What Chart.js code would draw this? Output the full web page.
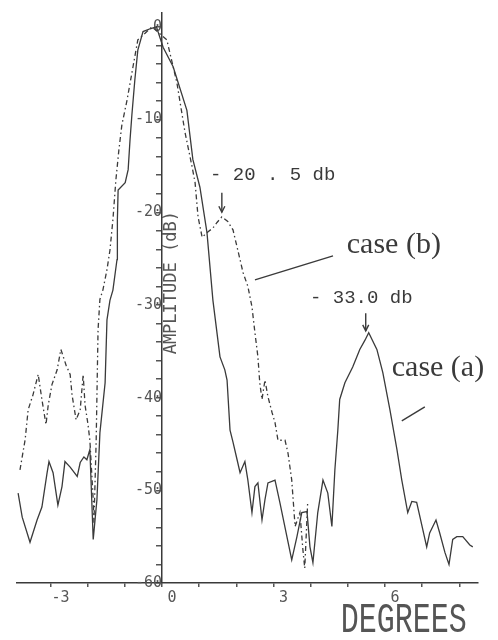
<!DOCTYPE html>
<html>
<head>
<meta charset="utf-8">
<script src="https://cdn.jsdelivr.net/npm/chart.js@4.4.0/dist/chart.umd.min.js"></script>
<style>
  html, body { margin: 0; padding: 0; background: #fff; }
  #wrap { width: 498px; height: 640px; position: relative; }
</style>
</head>
<body>
<div id="wrap"><canvas id="Chart"></canvas></div>
<script>
// case (a) : solid trace, angle in degrees / amplitude in dB
var caseA_deg = [-3.87,-3.76,-3.55,-3.36,-3.23,-3.09,-3.04,-2.93,-2.80,-2.69,
  -2.61,-2.47,-2.28,-2.20,-2.10,-2.02,-1.94,-1.85,-1.75,-1.67,
  -1.53,-1.48,-1.40,-1.32,-1.21,-1.20,-1.18,-0.99,-0.91,-0.86,
  -0.81,-0.73,-0.65,-0.51,-0.32,-0.15,0.03,0.30,0.67,0.83,
  1.02,1.21,1.37,1.56,1.69,1.75,1.83,1.91,2.02,2.10,
  2.23,2.31,2.42,2.50,2.58,2.69,2.77,2.85,3.04,3.17,
  3.36,3.49,3.63,3.76,3.90,3.98,4.06,4.19,4.33,4.46,
  4.57,4.65,4.73,4.78,4.92,5.13,5.32,5.46,5.56,5.78,
  5.94,6.13,6.32,6.45,6.61,6.72,6.85,6.94,7.12,7.20,
  7.37,7.47,7.61,7.72,7.82,7.93,8.09,8.28,8.36]
var caseA_db = [-50.3,-52.9,-55.6,-53.2,-51.8,-48.1,-46.9,-48.1,-51.6,-49.6,
  -46.9,-47.5,-48.5,-47.0,-46.4,-46.7,-45.6,-55.3,-51.0,-43.8,
  -38.4,-31.6,-29.5,-28.4,-25.1,-20.8,-17.6,-16.8,-15.4,-12.2,
  -9.5,-5.7,-2.5,-0.5,-0.2,0,-2.2,-4.3,-9.0,-14.3,
  -17.3,-22.2,-29.5,-35.6,-37.0,-38.1,-43.5,-44.8,-46.7,-48.1,
  -46.9,-48.9,-52.4,-49.6,-49.2,-53.2,-51.0,-49.2,-48.9,-51.3,
  -55.0,-57.5,-55.0,-52.4,-52.3,-56.1,-57.8,-52.4,-48.9,-50.3,
  -53.9,-47.8,-43.5,-40.2,-38.4,-36.7,-34.8,-33.8,-33.0,-34.8,
  -37.3,-41.3,-45.6,-48.9,-52.4,-51.2,-51.3,-52.9,-56.1,-54.6,
  -53.2,-54.6,-56.7,-58.0,-55.3,-55.0,-55.0,-55.9,-56.1]

// case (b) : dash-dot trace
var caseB_deg = [-3.82,-3.68,-3.60,-3.47,-3.33,-3.23,-3.12,-3.06,-2.96,-2.82,
  -2.72,-2.58,-2.47,-2.42,-2.31,-2.20,-2.12,-2.07,-1.99,-1.94,
  -1.85,-1.83,-1.77,-1.72,-1.67,-1.59,-1.48,-1.40,-1.32,-1.24,
  -1.16,-1.08,-0.94,-0.78,-0.65,-0.27,0.13,0.40,0.62,0.81,
  0.89,0.97,1.08,1.24,1.37,1.48,1.61,1.77,1.91,2.04,
  2.18,2.31,2.42,2.50,2.58,2.63,2.69,2.77,2.85,2.96,
  3.04,3.12,3.31,3.39,3.49,3.58,3.71,3.79,3.84,3.92]
var caseB_db = [-47.8,-44.5,-41.3,-39.7,-37.5,-40.2,-42.9,-40.8,-38.6,-37.0,
  -34.8,-36.5,-37.5,-39.7,-42.4,-41.3,-37.5,-40.8,-42.9,-44.6,
  -51.0,-53.5,-44.6,-32.7,-29.4,-28.4,-26.2,-24.1,-20.8,-16.5,
  -13.3,-10.6,-7.9,-4.3,-1.4,0,-1.4,-6.0,-11.4,-15.1,
  -16.8,-20.5,-22.7,-22.1,-21.7,-21.1,-20.5,-21.0,-21.9,-24.1,
  -26.5,-28.0,-30.2,-33.0,-35.6,-38.4,-40.2,-38.1,-39.9,-41.6,
  -42.7,-44.6,-44.6,-46.0,-48.9,-53.9,-52.4,-56.4,-58.4,-51.2]

var xLabelled = [-3, 0, 3, 6]
var yLabelled = [0, -10, -20, -30, -40, -50, -60]
var yTitle = "AMPLITUDE (dB)"
var xTitle = "DEGREES"

function pts(xs, ys) {
  var out = []
  for (var i = 0; i < xs.length; i++) out.push({ x: xs[i], y: ys[i] })
  return out
}

var ink = '#3a3a3a'

// text, leader lines and arrows of the plot
var notesPlugin = {
  id: 'notes',
  afterDraw: function(chart) {
    var ctx = chart.ctx
    var sx = chart.scales.x, sy = chart.scales.y
    function X(v) { return sx.getPixelForValue(v) }
    function Y(v) { return sy.getPixelForValue(v) }
    ctx.save()
    ctx.fillStyle = ink
    ctx.strokeStyle = ink
    ctx.textBaseline = 'middle'

    ctx.font = '19px "Liberation Mono"'
    ctx.textAlign = 'left'
    ctx.fillText('- 20 . 5 db', X(1.29), Y(-16.0))
    ctx.fillText('- 33.0 db', X(3.98), Y(-29.2))

    ctx.font = '30px "Liberation Serif"'
    ctx.fillText('case (b)', X(4.97), Y(-23.5))
    ctx.fillText('case (a)', X(6.18), Y(-36.8))

    ctx.lineWidth = 1.4
    function line(x1, y1, x2, y2) {
      ctx.beginPath(); ctx.moveTo(X(x1), Y(y1)); ctx.lineTo(X(x2), Y(y2)); ctx.stroke()
    }
    function arrow(x, y1, y2) {
      line(x, y1, x, y2)
      var px = X(x), py = Y(y2)
      ctx.beginPath()
      ctx.moveTo(px - 3, py - 6); ctx.lineTo(px, py); ctx.lineTo(px + 3, py - 6)
      ctx.stroke()
    }
    line(4.60, -24.7, 2.50, -27.3)
    line(7.07, -41.0, 6.45, -42.5)
    arrow(1.61, -17.9, -20.0)
    arrow(5.48, -30.9, -32.8)

    // y axis title, to the right of the axis
    ctx.save()
    ctx.translate(X(0.27), Y(-27.6))
    ctx.rotate(-Math.PI / 2)
    ctx.textAlign = 'center'
    ctx.font = '17px "DejaVu Sans Mono"'
    ctx.fillStyle = '#555'
    ctx.fillText(yTitle, 0, 0)
    ctx.restore()

    // x axis title, tall thin plotter lettering
    ctx.save()
    ctx.translate(X(8.2), chart.chartArea.bottom + 38)
    ctx.scale(1, 1.4)
    ctx.textAlign = 'right'
    ctx.font = '30px "Liberation Mono"'
    ctx.fillStyle = '#555'
    ctx.fillText(xTitle, 0, 0)
    ctx.restore()

    ctx.restore()
  }
}

var ctx = document.getElementById('Chart').getContext('2d')
var chart = new Chart(ctx, {
  type: 'line',
  data: {
    datasets: [{
      label: 'case (a)',
      data: pts(caseA_deg, caseA_db),
      borderColor: ink,
      borderWidth: 1.3,
      pointRadius: 0,
      tension: 0,
      fill: false
    }, {
      label: 'case (b)',
      data: pts(caseB_deg, caseB_db),
      borderColor: ink,
      borderWidth: 1.3,
      borderDash: [5, 3, 1.5, 3],
      pointRadius: 0,
      tension: 0,
      fill: false
    }]
  },
  options: {
    responsive: true,
    maintainAspectRatio: false,
    animation: false,
    layout: { padding: { left: 17, right: 20, top: 13, bottom: 0 } },
    plugins: { legend: { display: false }, tooltip: { enabled: false } },
    scales: {
      x: {
        type: 'linear',
        position: 'bottom',
        min: -3.9,
        max: 8.5,
        afterFit: function(scale) { scale.height = 57 },
        afterBuildTicks: function(scale) {
          var t = []
          for (var v = -3; v <= 8; v++) t.push({ value: v })
          scale.ticks = t
        },
        grid: { drawOnChartArea: false, drawTicks: true, tickLength: 4, color: '#555', lineWidth: 1.5 },
        border: { display: true, color: ink, width: 1.5 },
        ticks: {
          autoSkip: false,
          maxRotation: 0,
          padding: 2,
          labelOffset: 10,
          color: '#555',
          font: { family: 'DejaVu Sans Mono', size: 15 },
          callback: function(v) { return xLabelled.indexOf(v) >= 0 ? String(v) : '' }
        }
      },
      y: {
        type: 'linear',
        position: { x: 0 },
        min: -60,
        max: 1.5,
        afterBuildTicks: function(scale) {
          var t = []
          for (var v = 0; v >= -60; v -= 2) t.push({ value: v })
          scale.ticks = t
        },
        grid: { drawOnChartArea: false, drawTicks: true, tickLength: 5, color: '#555', lineWidth: 1.5 },
        border: { display: true, color: ink, width: 1.5 },
        ticks: {
          autoSkip: false,
          padding: 4,
          color: '#555',
          font: { family: 'DejaVu Sans Mono', size: 15 },
          callback: function(v) { return yLabelled.indexOf(v) >= 0 ? String(v) : '' }
        }
      }
    }
  },
  plugins: [notesPlugin]
})
</script>
</body>
</html>
